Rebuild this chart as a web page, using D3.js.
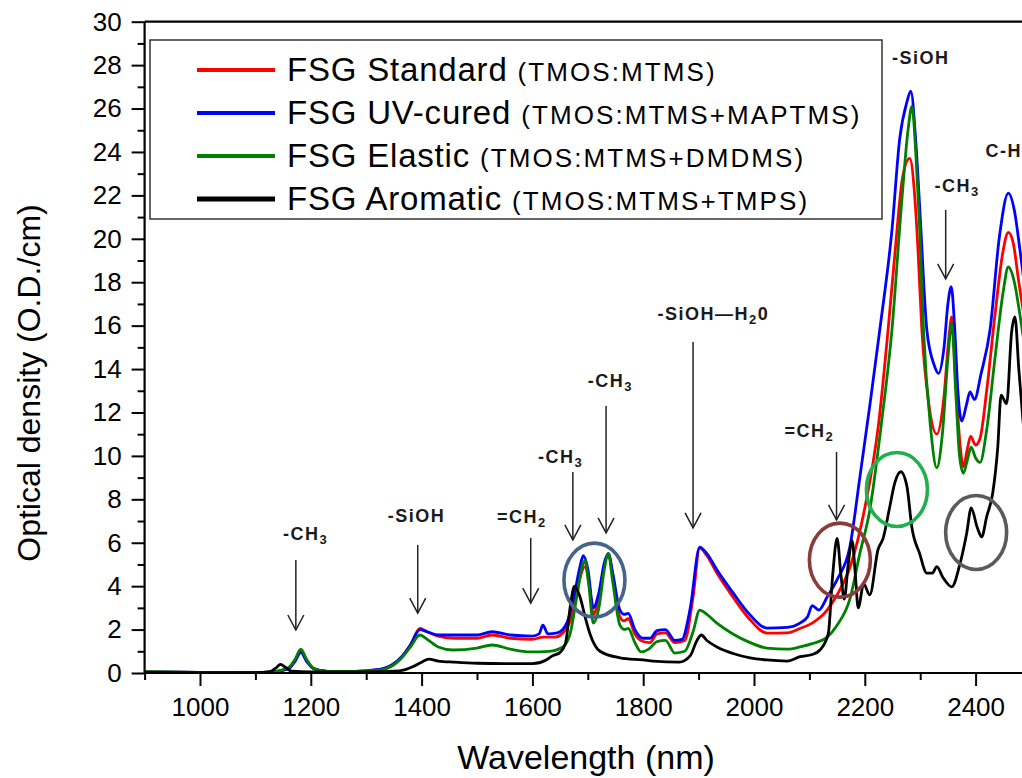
<!DOCTYPE html>
<html>
<head>
<meta charset="utf-8">
<script src="https://cdn.jsdelivr.net/npm/d3@7"></script>
<style>
  html, body { margin: 0; padding: 0; background: #fff; }
  svg { display: block; }
  text { font-family: "Liberation Sans", Arial, sans-serif; }
</style>
</head>
<body>
<svg id="chart" width="1022" height="778"></svg>
<script>
// NIR absorption spectra of four FSG sol-gel formulations: [wavelength (nm), optical density (O.D./cm)]
const standardSpectrum = [
  [900,0.05],[1000,0.03],[1100,0.02],[1130,0.05],[1160,0.2],[1172,0.6],[1182,1.0],[1192,0.6],[1205,0.2],[1230,0.07],
  [1280,0.07],[1320,0.15],[1345,0.35],[1366,0.8],[1380,1.3],[1397,2.05],[1410,1.9],[1430,1.7],[1460,1.6],[1500,1.6],
  [1527,1.75],[1560,1.6],[1600,1.55],[1619,1.65],[1640,1.65],[1660,2.0],[1675,3.0],[1685,4.3],[1695,4.9],[1703,4.0],
  [1710,2.7],[1720,3.5],[1730,5.0],[1737,5.5],[1745,4.5],[1755,2.8],[1765,2.4],[1773,2.5],[1785,1.8],[1800,1.45],
  [1812,1.4],[1825,1.8],[1840,1.85],[1857,1.4],[1875,1.5],[1890,3.5],[1902,5.75],[1915,5.4],[1933,4.6],[1962,3.5],
  [1993,2.45],[2023,1.84],[2060,1.85],[2083,2.05],[2105,2.3],[2132,2.9],[2150,3.6],[2175,5.0],[2200,7.6],[2225,11.5],
  [2242,15.8],[2255,19.5],[2268,22.8],[2281,23.7],[2290,22.0],[2296,19.5],[2303,15.8],[2315,12.5],[2330,11.0],[2342,12.5],
  [2352,15.5],[2357,16.4],[2364,13.5],[2372,10.5],[2378,9.5],[2385,10.3],[2391,10.9],[2400,10.5],[2408,10.8],[2420,13.0],
  [2435,16.5],[2450,19.5],[2459,20.3],[2468,19.8],[2478,18.0],[2490,16.0]
];
const uvCuredSpectrum = [
  [900,0.05],[1000,0.03],[1100,0.02],[1130,0.05],[1160,0.2],[1172,0.55],[1182,0.95],[1192,0.55],[1205,0.2],[1230,0.07],
  [1280,0.07],[1320,0.15],[1345,0.35],[1366,0.8],[1380,1.3],[1397,2.0],[1410,1.9],[1430,1.75],[1460,1.75],[1500,1.75],
  [1527,1.9],[1560,1.75],[1600,1.7],[1612,1.8],[1619,2.2],[1628,1.8],[1645,1.85],[1662,2.3],[1675,3.5],[1685,4.8],
  [1692,5.4],[1700,4.8],[1710,3.0],[1720,3.7],[1730,5.1],[1737,5.5],[1745,4.6],[1758,2.9],[1766,2.7],[1773,2.75],
  [1785,2.0],[1800,1.6],[1812,1.6],[1825,1.95],[1840,2.0],[1857,1.5],[1870,1.55],[1885,3.0],[1902,5.8],[1915,5.5],
  [1933,4.75],[1962,3.7],[1993,2.67],[2023,2.07],[2060,2.1],[2083,2.3],[2097,2.6],[2105,3.1],[2117,2.9],[2132,3.5],
  [2150,4.3],[2173,5.8],[2191,9.0],[2210,12.5],[2227,15.8],[2249,20.4],[2263,24.6],[2276,26.3],[2283,26.8],[2292,24.5],
  [2299,21.5],[2312,15.8],[2325,14.2],[2333,13.8],[2343,15.0],[2350,17.0],[2356,17.8],[2362,16.0],[2368,13.0],[2375,11.6],
  [2383,12.3],[2390,12.95],[2398,12.6],[2410,13.8],[2426,15.8],[2443,20.1],[2459,22.1],[2470,21.3],[2480,19.5],[2490,17.5]
];
const elasticSpectrum = [
  [900,0.06],[1000,0.03],[1100,0.02],[1130,0.05],[1160,0.25],[1172,0.65],[1182,1.1],[1192,0.65],[1205,0.22],[1230,0.07],
  [1280,0.07],[1320,0.12],[1345,0.3],[1366,0.75],[1380,1.2],[1397,1.75],[1410,1.55],[1430,1.2],[1457,1.06],[1500,1.15],
  [1527,1.29],[1560,1.1],[1596,0.97],[1630,1.0],[1655,1.2],[1668,1.8],[1680,3.5],[1690,4.9],[1695,5.2],[1702,4.0],
  [1710,2.3],[1720,3.0],[1730,4.8],[1737,5.5],[1745,4.2],[1758,2.2],[1766,2.0],[1773,2.05],[1785,1.4],[1796,0.97],
  [1810,1.1],[1825,1.45],[1840,1.5],[1857,0.92],[1875,1.0],[1890,1.9],[1902,2.9],[1915,2.7],[1933,2.3],[1962,1.8],
  [1993,1.4],[2023,1.15],[2060,1.1],[2083,1.2],[2105,1.35],[2132,1.65],[2150,2.2],[2173,3.4],[2191,5.5],[2209,7.5],
  [2230,11.5],[2249,15.8],[2266,21.5],[2278,25.0],[2285,26.1],[2293,23.5],[2299,20.5],[2306,15.8],[2318,11.5],[2330,9.45],
  [2340,11.0],[2350,14.5],[2357,16.1],[2364,13.0],[2371,10.0],[2378,9.2],[2385,9.8],[2392,10.4],[2400,9.9],[2408,9.7],
  [2420,11.2],[2435,14.5],[2450,17.6],[2459,18.7],[2470,18.0],[2480,16.5],[2490,14.8]
];
const aromaticSpectrum = [
  [900,0.03],[1000,0.02],[1100,0.02],[1125,0.05],[1138,0.25],[1145,0.4],[1155,0.25],[1165,0.08],[1200,0.05],[1300,0.05],
  [1360,0.1],[1385,0.3],[1400,0.5],[1413,0.64],[1430,0.55],[1460,0.5],[1500,0.45],[1550,0.43],[1600,0.43],[1625,0.6],
  [1637,0.8],[1650,0.95],[1660,1.4],[1668,3.0],[1676,4.0],[1686,3.5],[1695,2.6],[1704,1.8],[1722,1.0],[1758,0.7],
  [1800,0.6],[1818,0.55],[1865,0.5],[1885,0.8],[1897,1.5],[1905,1.75],[1915,1.5],[1933,1.2],[1962,0.9],[1993,0.7],
  [2023,0.6],[2060,0.55],[2083,0.75],[2105,0.85],[2119,1.06],[2134,1.8],[2142,4.5],[2150,6.2],[2157,4.5],[2163,3.4],
  [2170,5.0],[2177,6.1],[2183,4.5],[2188,3.0],[2198,4.1],[2209,3.6],[2224,5.7],[2233,6.2],[2245,7.65],[2254,8.75],
  [2265,9.27],[2276,8.6],[2285,6.7],[2299,5.5],[2312,4.6],[2322,4.6],[2330,4.9],[2341,4.4],[2357,3.97],[2372,5.05],
  [2384,6.45],[2392,7.6],[2403,6.7],[2411,6.27],[2420,7.2],[2431,8.3],[2440,10.4],[2446,12.8],[2456,12.4],[2465,15.7],
  [2471,16.4],[2478,14.0],[2486,11.5]
];

const seriesNames = ["FSG Standard", "FSG UV-cured", "FSG Elastic", "FSG Aromatic"];
const seriesRecipes = ["(TMOS:MTMS)", "(TMOS:MTMS+MAPTMS)", "(TMOS:MTMS+DMDMS)", "(TMOS:MTMS+TMPS)"];
const seriesColors = ["#ff0000", "#0000ff", "#008000", "#000000"];
const seriesData = [standardSpectrum, uvCuredSpectrum, elasticSpectrum, aromaticSpectrum];

const xMajorTicks = [1000, 1200, 1400, 1600, 1800, 2000, 2200, 2400];
const xMinorTicks = [900, 1100, 1300, 1500, 1700, 1900, 2100, 2300];
const yMajorTicks = d3.range(0, 31, 2);
const yMinorTicks = d3.range(1, 30, 2);

// Band assignments: label parts (text, isSubscript), arrow wavelength, arrow tail/tip OD, text anchor (wavelength, OD)
const bandLabels = [
  { parts: [["-CH"], ["3", true]],                 w: 1173, tail: 5.2,   tip: 1.98,  tw: 1150, tv: 6.13 },
  { parts: [["-SiOH"]],                             w: 1393, tail: 5.9,   tip: 2.76,  tw: 1339, tv: 6.96 },
  { parts: [["=CH"], ["2", true]],                 w: 1597, tail: 6.22,  tip: 3.22,  tw: 1536, tv: 6.91 },
  { parts: [["-CH"], ["3", true]],                 w: 1673, tail: 9.26,  tip: 6.13,  tw: 1610, tv: 9.67 },
  { parts: [["-CH"], ["3", true]],                 w: 1733, tail: 12.3,  tip: 6.45,  tw: 1700, tv: 13.17 },
  { parts: [["-SiOH\u2014H"], ["2", true], ["0"]], w: 1890, tail: 15.25, tip: 6.68,  tw: 1826, tv: 16.26 },
  { parts: [["=CH"], ["2", true]],                 w: 2149, tail: 10.18, tip: 7.05,  tw: 2055, tv: 10.87 },
  { parts: [["-SiOH"]],                             w: null, tw: 2249, tv: 28.05 },
  { parts: [["-CH"], ["3", true]],                 w: 2346, tail: 21.33, tip: 18.15, tw: 2326, tv: 22.16 },
  { parts: [["C-H"]],                               w: null, tw: 2418, tv: 23.77 }
];

// Highlight rings around features: centre (wavelength, OD) and ring colour
const highlightRings = [
  { w: 1712, v: 4.28, color: "#46648a" },
  { w: 2155, v: 5.2,  color: "#8c3b3b" },
  { w: 2258, v: 8.45, color: "#22b04f" },
  { w: 2401, v: 6.47, color: "#5a5a5a" }
];

const svg = d3.select("#chart");
const plotLeft = 144.6, plotBottom = 673, plotTop = 21.7, plotRight = 1031;
const x = d3.scaleLinear().domain([900, 2500]).range([plotLeft, plotRight]);
const y = d3.scaleLinear().domain([0, 30]).range([plotBottom, plotTop]);

svg.append("defs").append("clipPath").attr("id", "plot-clip")
  .append("rect").attr("x", plotLeft).attr("y", plotTop)
  .attr("width", plotRight - plotLeft).attr("height", plotBottom - plotTop);

// Spectra
const line = d3.line().x(d => x(d[0])).y(d => y(d[1])).curve(d3.curveMonotoneX);
const plot = svg.append("g").attr("clip-path", "url(#plot-clip)");
seriesData.forEach((data, i) => {
  plot.append("path")
    .attr("d", line(data))
    .attr("fill", "none")
    .attr("stroke", seriesColors[i])
    .attr("stroke-width", 2.8)
    .attr("stroke-linejoin", "round");
});

// Highlight rings
plot.selectAll("ellipse.ring").data(highlightRings).join("ellipse")
  .attr("class", "ring")
  .attr("cx", d => x(d.w)).attr("cy", d => y(d.v))
  .attr("rx", 30.5).attr("ry", 37)
  .attr("fill", "none").attr("stroke", d => d.color).attr("stroke-width", 3.6);

// Axes
const xAxisMajor = d3.axisBottom(x).tickValues(xMajorTicks).tickSize(13).tickPadding(12).tickFormat(d3.format("d"));
const xAxisMinor = d3.axisBottom(x).tickValues(xMinorTicks).tickSize(7).tickFormat("");
const yAxisMajor = d3.axisLeft(y).tickValues(yMajorTicks).tickSize(13).tickPadding(10).tickFormat(d3.format("d"));
const yAxisMinor = d3.axisLeft(y).tickValues(yMinorTicks).tickSize(7).tickFormat("");

function styleAxis(g) {
  g.select(".domain").remove();
  g.selectAll(".tick line").attr("stroke", "#000").attr("stroke-width", 2);
  g.selectAll(".tick text").attr("fill", "#000").style("font-size", "26px")
    .style("font-family", "'Liberation Sans', Arial, sans-serif");
}
svg.append("g").attr("transform", `translate(0,${plotBottom})`).call(xAxisMajor).call(styleAxis);
svg.append("g").attr("transform", `translate(0,${plotBottom})`).call(xAxisMinor).call(styleAxis);
svg.append("g").attr("transform", `translate(${plotLeft},0)`).call(yAxisMajor).call(styleAxis);
svg.append("g").attr("transform", `translate(${plotLeft},0)`).call(yAxisMinor).call(styleAxis);

// Frame lines
const frame = svg.append("g").attr("stroke", "#000").attr("stroke-width", 2.2);
frame.append("line").attr("x1", plotLeft).attr("x2", plotRight).attr("y1", plotBottom).attr("y2", plotBottom);
frame.append("line").attr("x1", plotLeft).attr("x2", plotLeft).attr("y1", plotTop).attr("y2", plotBottom);
frame.append("line").attr("x1", plotLeft).attr("x2", plotRight).attr("y1", plotTop).attr("y2", plotTop);

// Axis titles
svg.append("text").attr("x", 586).attr("y", 769).attr("text-anchor", "middle")
  .style("font-size", "34px").attr("fill", "#000").text("Wavelength (nm)");
svg.append("text").attr("transform", "translate(40,383) rotate(-90)").attr("text-anchor", "middle")
  .style("font-size", "32px").attr("fill", "#000").text("Optical density (O.D./cm)");

// Band assignment labels and arrows
const ann = svg.append("g");
bandLabels.forEach(b => {
  const t = ann.append("text").attr("x", x(b.tw)).attr("y", y(b.tv))
    .attr("fill", "#1a1a1a").style("font-size", "18px").style("font-weight", "bold")
    .style("letter-spacing", "1.5px");
  let lowered = false;
  b.parts.forEach(p => {
    const ts = t.append("tspan").text(p[0]);
    if (p[1]) { ts.style("font-size", "13px").attr("dy", 4); lowered = true; }
    else if (lowered) { ts.attr("dy", -4); lowered = false; }
  });
  if (b.w !== null) {
    const ax = x(b.w), y0 = y(b.tail), y1 = y(b.tip);
    ann.append("line").attr("x1", ax).attr("x2", ax).attr("y1", y0).attr("y2", y1)
      .attr("stroke", "#222").attr("stroke-width", 1.5);
    ann.append("path").attr("d", `M${ax - 8},${y1 - 15} L${ax},${y1} L${ax + 8},${y1 - 15}`)
      .attr("fill", "none").attr("stroke", "#222").attr("stroke-width", 1.5);
  }
});

// Legend
const legend = svg.append("g");
legend.append("rect").attr("x", 150).attr("y", 40).attr("width", 732).attr("height", 179)
  .attr("fill", "#fff").attr("stroke", "#333").attr("stroke-width", 1.5);
seriesNames.forEach((name, i) => {
  const ry = 70 + i * 43;
  legend.append("line").attr("x1", 197).attr("x2", 275).attr("y1", ry).attr("y2", ry)
    .attr("stroke", seriesColors[i]).attr("stroke-width", i === 3 ? 5 : 4);
  const t = legend.append("text").attr("x", 287).attr("y", ry + 11).attr("fill", "#000");
  t.append("tspan").text(name + " ").style("font-size", "33px").style("letter-spacing", "0.8px");
  t.append("tspan").text(seriesRecipes[i]).style("font-size", "26px").style("letter-spacing", "2.1px");
});
</script>
</body>
</html>
